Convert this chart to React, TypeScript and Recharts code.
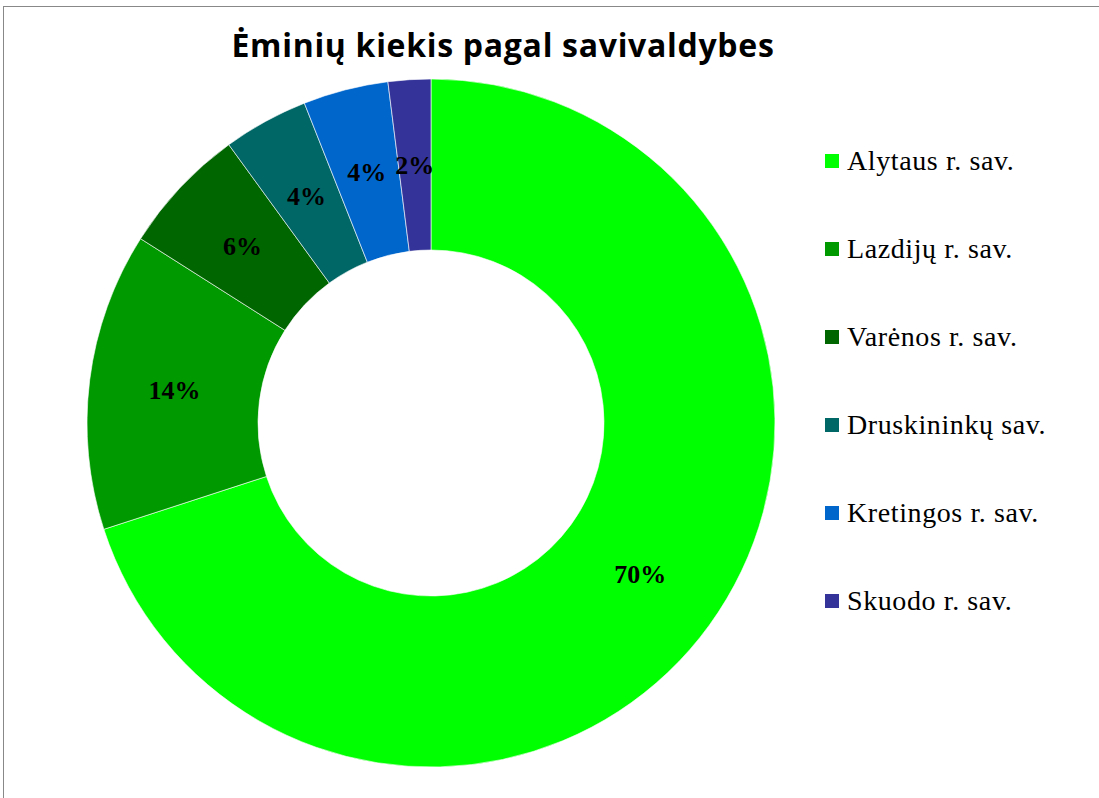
import { PieChart, Pie, Cell, Legend } from "recharts"

// ── Data ──────────────────────────────────────────────────────
const MUNICIPALITIES = [
  "Alytaus r. sav.",
  "Lazdijų r. sav.",
  "Varėnos r. sav.",
  "Druskininkų sav.",
  "Kretingos r. sav.",
  "Skuodo r. sav.",
]
const SAMPLES = [35, 7, 3, 2, 2, 1]
const SLICE_COLOURS = ["#00FF00", "#009900", "#006600", "#006666", "#0066CC", "#333399"]

const TITLE = "Ėminių kiekis pagal savivaldybes"

const data = MUNICIPALITIES.map((name, i) => ({ name, value: SAMPLES[i] }))

const RAD = Math.PI / 180

// ── Percent labels in the middle of the ring ──────────────────
function renderLabel(props: any) {
  const { cx, cy, midAngle, innerRadius, outerRadius, percent } = props
  const r = (innerRadius + outerRadius) / 2
  const x = cx + r * Math.cos(-midAngle * RAD)
  const y = cy + r * Math.sin(-midAngle * RAD)
  return (
    <text
      x={x}
      y={y}
      textAnchor="middle"
      dominantBaseline="central"
      fill="#000"
      style={{ fontFamily: "'Liberation Serif', 'Times New Roman', serif", fontWeight: 700, fontSize: 26 }}
    >
      {`${Math.round(percent * 100)}%`}
    </text>
  )
}

// ── Legend ────────────────────────────────────────────────────
function renderLegend() {
  return (
    <div style={{ fontFamily: "'Liberation Serif', 'Times New Roman', serif", fontSize: 28, color: "#000" }}>
      {data.map((d, i) => (
        <div key={d.name} style={{ display: "flex", alignItems: "center", height: 88 }}>
          <span
            style={{
              display: "inline-block",
              width: 14,
              height: 14,
              background: SLICE_COLOURS[i],
              marginRight: 8,
            }}
          />
          <span style={{ letterSpacing: 0.6 }}>{d.name}</span>
        </div>
      ))}
    </div>
  )
}

export default function App() {
  return (
    <div
      style={{
        position: "fixed",
        left: 0,
        top: 0,
        width: 1099,
        height: 798,
        overflow: "hidden",
        background: "#fff",
      }}
    >
      {/* chart area frame (cropped on the right and bottom) */}
      <div
        style={{
          position: "absolute",
          left: 3,
          top: 6,
          width: 1200,
          height: 900,
          border: "1px solid #888",
          boxSizing: "border-box",
        }}
      />
      <div
        style={{
          position: "absolute",
          left: 0,
          top: 23,
          width: 1006,
          textAlign: "center",
          fontFamily: "'Open Sans', sans-serif",
          fontWeight: 700,
          fontSize: 32,
          letterSpacing: 0.7,
          lineHeight: "44px",
          color: "#000",
        }}
      >
        {TITLE}
      </div>
      <div style={{ position: "absolute", left: 0, top: 0 }}>
        <PieChart width={1099} height={798} margin={{ top: 0, right: 0, bottom: 0, left: 0 }}>
          <Pie
            data={data}
            dataKey="value"
            nameKey="name"
            cx={431}
            cy={423}
            innerRadius={173}
            outerRadius={344}
            startAngle={90}
            endAngle={-270}
            stroke="#ffffff"
            strokeWidth={0.6}
            label={renderLabel}
            labelLine={false}
            isAnimationActive={false}
          >
            {data.map((d, i) => (
              <Cell key={d.name} fill={SLICE_COLOURS[i]} />
            ))}
          </Pie>
          <Legend
            content={renderLegend}
            layout="vertical"
            verticalAlign="top"
            align="right"
            wrapperStyle={{ position: "absolute", left: 825, top: 117, width: 270 }}
          />
        </PieChart>
      </div>
    </div>
  )
}
